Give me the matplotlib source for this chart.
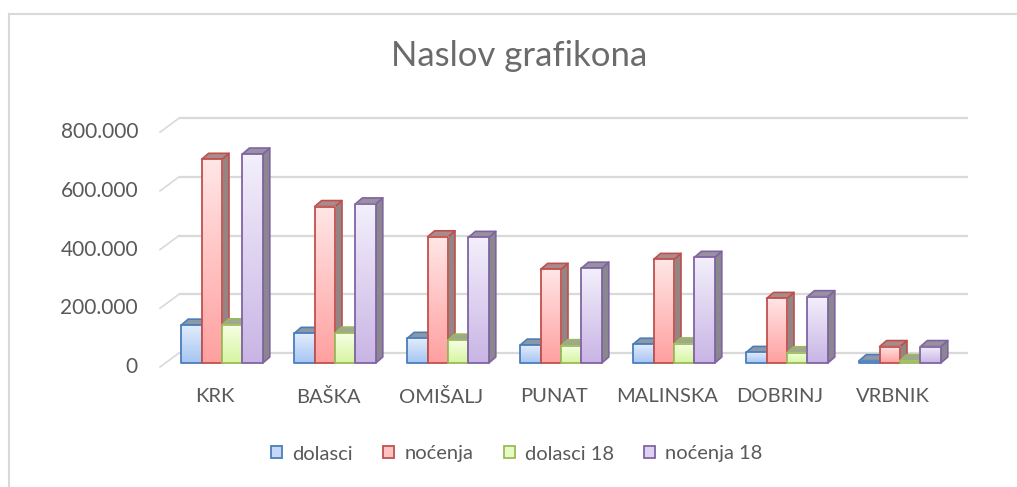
import numpy as np
import matplotlib
matplotlib.use("Agg")
import matplotlib.pyplot as plt
from matplotlib.patches import Polygon, Patch
from matplotlib.lines import Line2D
from matplotlib.colors import to_rgb

# ---------------- data ----------------
categories = ["KRK", "BAŠKA", "OMIŠALJ", "PUNAT", "MALINSKA", "DOBRINJ", "VRBNIK"]
series_names = ["dolasci", "noćenja", "dolasci 18", "noćenja 18"]
dolasci = [129000, 101000, 84000, 61000, 64000, 36000, 8000]
nocenja = [694000, 533000, 430000, 319000, 353000, 220000, 56000]
dolasci18 = [130000, 102000, 78000, 59000, 65000, 35000, 8000]
nocenja18 = [712000, 542000, 428000, 323000, 360000, 226000, 56000]
yticks = [0, 200000, 400000, 600000, 800000]
ytick_labels = ["0", "200.000", "400.000", "600.000", "800.000"]
title = "Naslov grafikona"

series_values = [dolasci, nocenja, dolasci18, nocenja18]

# ---------------- style ----------------
edge_cols = ["#4a7ebb", "#c0504d", "#9bbb59", "#8064a2"]
grad_top = ["#e2ecfc", "#ffe6e6", "#f6ffe6", "#f3effb"]
grad_bot = ["#a6c5f3", "#ffa0a0", "#d6f5a0", "#c9b5e5"]
TEXT = "#595959"
GRID = "#d9d9d9"

plt.rcParams["font.family"] = ["Lato", "DejaVu Sans"]

W, H = 1017, 487
fig = plt.figure(figsize=(W / 100, H / 100), dpi=100)
fig.patch.set_facecolor("white")

# axes placement (pixels)
ax_l, ax_r, ax_t, ax_b = 150, 980, 100, 380
ax = fig.add_axes([ax_l / W, 1 - ax_b / H, (ax_r - ax_l) / W, (ax_b - ax_t) / H])
px_per_cat = 113.0
cat0_px = 222.0
px_per_val = 58.7 / 200000.0
zero_px = 363.0
ax.set_xlim((ax_l - cat0_px) / px_per_cat, (ax_r - cat0_px) / px_per_cat)
ax.set_ylim(-(ax_b - zero_px) / px_per_val, (zero_px - ax_t) / px_per_val)
ax.axis("off")

def dxp(p):  # pixel -> category units
    return p / px_per_cat

def dyp(p):  # pixel -> value units
    return p / px_per_val

# gridlines (back wall) + left wall stubs
back_dy = dyp(10)
front_dy = dyp(-4)
x_back_l = dxp(179 - cat0_px)
x_back_r = dxp(968 - cat0_px)
x_front_l = dxp(160 - cat0_px)
for v, lab in zip(yticks, ytick_labels):
    ax.plot([x_back_l, x_back_r], [v + back_dy, v + back_dy], color=GRID, lw=1.6,
            zorder=1, solid_capstyle="butt", clip_on=False)
    ax.plot([x_front_l, x_back_l], [v + front_dy, v + back_dy], color=GRID, lw=1.2,
            zorder=1, clip_on=False)
    ax.text(dxp(138 - cat0_px), v + front_dy, lab, ha="right", va="center",
            fontsize=15, color=TEXT, clip_on=False)

# bars
bw = dxp(20.4)
DX = dxp(7)
DY = dyp(6)

def mix(c1, c2, t):
    a, b = np.array(to_rgb(c1)), np.array(to_rgb(c2))
    return tuple(a * (1 - t) + b * t)

z = 2
for i in range(len(categories)):
    g0 = i - 2 * bw
    for s in range(4):
        v = series_values[s][i]
        x0 = g0 + s * bw
        ec = edge_cols[s]
        side = Polygon([(x0 + bw, 0), (x0 + bw + DX, DY), (x0 + bw + DX, v + DY), (x0 + bw, v)],
                       closed=True, facecolor=mix("#8c8c8c", ec, 0.12), edgecolor=ec,
                       lw=1.2, zorder=z, joinstyle="round")
        ax.add_patch(side)
        top = Polygon([(x0, v), (x0 + bw, v), (x0 + bw + DX, v + DY), (x0 + DX, v + DY)],
                      closed=True, facecolor=mix("#a0a0a0", ec, 0.25), edgecolor=ec,
                      lw=1.2, zorder=z + 0.1, joinstyle="round")
        ax.add_patch(top)
        n = 64
        grad = np.linspace(0, 1, n)[:, None]
        cb, ct = np.array(to_rgb(grad_bot[s])), np.array(to_rgb(grad_top[s]))
        img = (cb[None, :] * (1 - grad) + ct[None, :] * grad)[:, None, :]
        ax.imshow(img, extent=(x0, x0 + bw, 0, v), origin="lower", aspect="auto",
                  interpolation="bilinear", zorder=z + 0.2)
        front = Polygon([(x0, 0), (x0 + bw, 0), (x0 + bw, v), (x0, v)], closed=True,
                        facecolor="none", edgecolor=ec, lw=1.3, zorder=z + 0.3,
                        joinstyle="round")
        ax.add_patch(front)
        z += 1

# category labels
for i, c in enumerate(categories):
    ax.text(i - dxp(7), dyp(-34), c, ha="center", va="center", fontsize=14.5,
            color=TEXT, clip_on=False)

ax.set_xlim((ax_l - cat0_px) / px_per_cat, (ax_r - cat0_px) / px_per_cat)
ax.set_ylim(-(ax_b - zero_px) / px_per_val, (zero_px - ax_t) / px_per_val)

# title
fig.text(519 / W, 1 - 56 / H, title, ha="center", va="center", fontsize=25, color="#6b6b6b")

# legend
handles = [Patch(facecolor=mix(grad_top[s], grad_bot[s], 0.5), edgecolor=edge_cols[s], lw=1.3)
           for s in range(4)]
fig.legend(handles, series_names, loc="center", bbox_to_anchor=(517 / W, 1 - 454 / H),
           ncol=4, frameon=False, fontsize=14.5, labelcolor=TEXT,
           handlelength=0.55, handleheight=0.55, handletextpad=0.5, columnspacing=1.5,
           borderpad=0)

# chart border (top + left)
fig.add_artist(Line2D([9 / W, 1.0], [1 - 14 / H, 1 - 14 / H], color=GRID, lw=1.5,
                      transform=fig.transFigure))
fig.add_artist(Line2D([9 / W, 9 / W], [1 - 14 / H, 0.0], color=GRID, lw=1.5,
                      transform=fig.transFigure))

fig.savefig("out.png", dpi=100, facecolor="white")
